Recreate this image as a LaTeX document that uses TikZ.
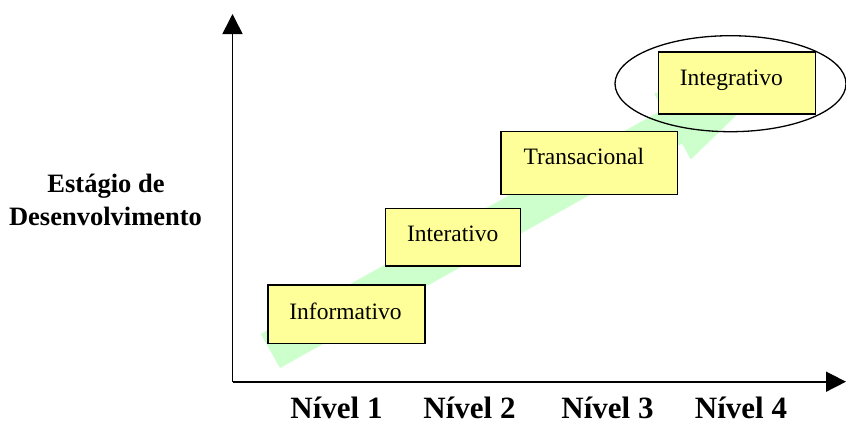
\documentclass[tikz,border=0pt]{standalone}
\usepackage{fontspec}
\setmainfont{Liberation Serif}
\usetikzlibrary{arrows.meta,shapes.geometric}
\definecolor{bandgreen}{HTML}{CCFFCC}
\definecolor{boxyellow}{HTML}{FFFF99}
\tikzset{
  stagebox/.style={draw=black, line width=1.5pt, fill=boxyellow, rectangle, inner sep=0pt},
  stagetxt/.style={anchor=base, inner sep=0pt, font=\fontsize{23.5}{28}\selectfont},
  axislbl/.style={anchor=base, inner sep=0pt, font=\fontsize{31}{34}\selectfont\bfseries},
  sidelbl/.style={anchor=base, inner sep=0pt, font=\fontsize{26.5}{32}\selectfont\bfseries},
  axisline/.style={line width=1.6pt, -{Triangle[length=20pt,width=20pt]}},
}
\begin{document}
\begin{tikzpicture}[x=1pt,y=-1pt]
\useasboundingbox (0,0) rectangle (846,423);
% green block arrow
\coordinate (gA) at (260.7,334);
\coordinate (gB) at (280,368);
\coordinate (gC) at (682,143.5);
\coordinate (gD) at (690.8,159.5);
\coordinate (gT) at (794.9,58.6);
\coordinate (gE) at (654.2,93.5);
\coordinate (gF) at (663,109.5);
\fill[bandgreen] (gA) -- (gB) -- (gC) -- (gD) -- (gT) -- (gE) -- (gF) -- cycle;
% axes
\coordinate (O) at (232.5,381.7);
\coordinate (ytip) at (232.5,14);
\coordinate (xtip) at (846,381.7);
\draw[axisline] (O) -- (ytip);
\draw[axisline] (O) -- (xtip);
% boxes
\node[stagebox, minimum width=157.3pt, minimum height=58.3pt] (b1) at (346.4,314.2) {};
\node[stagebox, minimum width=135pt, minimum height=57.7pt] (b2) at (453.2,237.2) {};
\node[stagebox, minimum width=176.7pt, minimum height=62.6pt] (b3) at (589.3,163) {};
\node[stagebox, minimum width=157.4pt, minimum height=62.3pt] (b4) at (737,82.9) {};
\node[stagetxt] (t1) at (345.5,319.3) {Informativo};
\node[stagetxt] (t2) at (452.8,241.7) {Interativo};
\node[stagetxt] (t3) at (583.8,164.3) {Transacional};
\node[stagetxt] (t4) at (731.3,85) {Integrativo};
% ellipse
\node[draw=black, line width=1.3pt, ellipse, minimum width=231pt, minimum height=96pt, inner sep=0pt] (ell) at (730.5,83.7) {};
% labels
\node[sidelbl] (s1) at (106,192.7) {Estágio de};
\node[sidelbl] (s2) at (105.5,225) {Desenvolvimento};
\node[axislbl] (n1) at (336.5,418.5) {Nível 1};
\node[axislbl] (n2) at (469.5,418.5) {Nível 2};
\node[axislbl] (n3) at (607.5,418.5) {Nível 3};
\node[axislbl] (n4) at (741,418.5) {Nível 4};
\end{tikzpicture}
\end{document}
